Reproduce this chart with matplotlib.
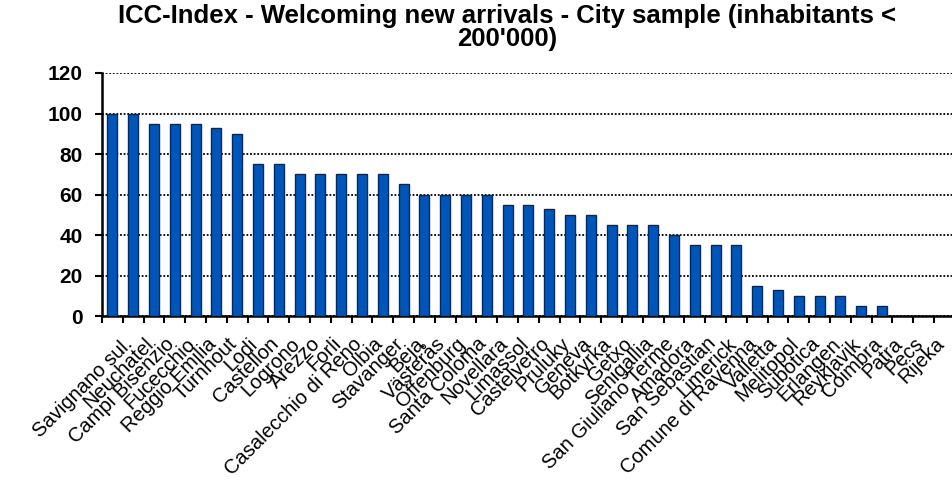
import numpy as np
import matplotlib
matplotlib.use('Agg')
import matplotlib.pyplot as plt
import matplotlib.transforms as mtransforms

# Data
cities = ['Savignano sul.', 'Neuchatel', 'Campi Bisenzio', 'Fucecchio', 'Reggio Emilia',
          'Turnhout', 'Lodi', 'Castellon', 'Logrono', 'Arezzo', 'Forli',
          'Casalecchio di Reno', 'Olbia', 'Stavanger', 'Beja', 'Västerås', 'Offenburg',
          'Santa Coloma', 'Novellara', 'Limassol', 'Castelvetro', 'Pruluky', 'Geneva',
          'Botkyrka', 'Getxo', 'Senigallia', 'San Giuliano Terme', 'Amadora',
          'San Sebastian', 'Limerick', 'Comune di Ravenna', 'Valletta', 'Melitopol',
          'Subotica', 'Erlangen', 'Reykjavik', 'Coimbra', 'Patra', 'Pecs', 'Rijeka']
scores = [100, 100, 95, 95, 95, 93, 90, 75, 75, 70, 70, 70, 70, 70, 65, 60, 60, 60, 60,
          55, 55, 53, 50, 50, 45, 45, 45, 40, 35, 35, 35, 15, 13, 10, 10, 10, 5, 5, 0, 0]
yticks = [0, 20, 40, 60, 80, 100, 120]

plt.rcParams['font.family'] = ['Liberation Sans', 'DejaVu Sans']

fig = plt.figure(figsize=(9.53, 4.83), dpi=100)
ax = fig.add_axes([102 / 953, 1 - 316 / 483, 851 / 953, (316 - 73) / 483])

x = np.arange(len(cities))
ax.bar(x, scores, width=0.48, color='#0056b8', edgecolor='#002a66', linewidth=1.0, zorder=3)

ax.set_ylim(0, 120)
ax.set_xlim(-0.5, -0.5 + 851 / 20.8)
ax.set_yticks(yticks)
ax.set_yticklabels([str(v) for v in yticks], fontsize=15, fontweight='bold')
ax.yaxis.grid(True, linestyle=(0, (1, 1)), color='black', linewidth=1.3, zorder=0)
ax.set_axisbelow(True)

# category labels at bar centres, tick marks at category boundaries
ax.set_xticks(x)
ax.set_xticklabels(cities, fontsize=14.5, rotation=45, ha='right', va='top',
                   rotation_mode='anchor')
ax.tick_params(axis='x', which='major', length=0, pad=13)
ax.set_xticks(np.arange(len(cities) + 1) - 0.5, minor=True)
ax.tick_params(axis='x', which='minor', length=5, width=1.5, direction='out')
ax.tick_params(axis='y', length=5, width=1.5, direction='out', pad=9)
offset = mtransforms.ScaledTranslation(11 / 100, 0, fig.dpi_scale_trans)
for lbl in ax.get_xticklabels():
    lbl.set_transform(lbl.get_transform() + offset)

for side in ['top', 'right']:
    ax.spines[side].set_visible(False)
ax.spines['left'].set_linewidth(1.8)
ax.spines['bottom'].set_linewidth(1.8)

fig.text(507 / 953, 1 - 4 / 483,
         "ICC-Index - Welcoming new arrivals - City sample (inhabitants <\n200'000)",
         ha='center', va='top', fontsize=18.5, fontweight='bold', linespacing=0.95)

fig.savefig('out.png', dpi=100)
